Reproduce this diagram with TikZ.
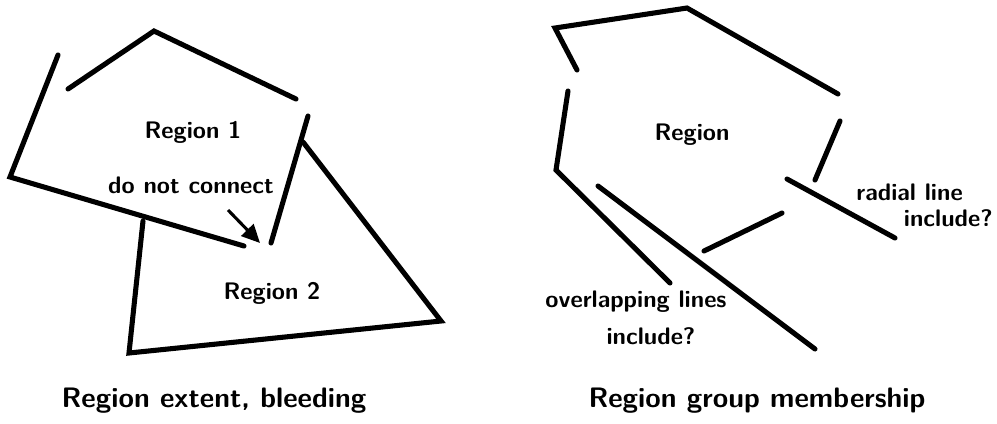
\documentclass[tikz,border=0pt]{standalone}
\usetikzlibrary{arrows.meta, positioning}

\begin{document}
\begin{tikzpicture}[x=0.025cm, y=-0.025cm,
          edge/.style={line width=3.6pt, line cap=round, line join=miter},
          lbl/.style={font=\sffamily\bfseries\fontsize{17}{19}\selectfont, inner sep=0pt},
          captxt/.style={font=\sffamily\bfseries\fontsize{20}{22}\selectfont, inner sep=0pt},
          arr/.style={-{Triangle[length=13pt, width=12pt]}, line width=2.2pt},
        ]
          \useasboundingbox (0,0) rectangle (997,423);

          % left panel: two regions
          \coordinate (a1) at (58,55);   \coordinate (a2) at (10,177);  \coordinate (a3) at (244,246);
          \coordinate (b1) at (68,89);   \coordinate (b2) at (154,31);  \coordinate (b3) at (296,99);
          \coordinate (c1) at (308,116); \coordinate (c2) at (271,243);
          \coordinate (t1) at (143,221); \coordinate (t2) at (129,353);
          \coordinate (t3) at (441,321); \coordinate (t4) at (303,142);

          \draw[edge] (a1) -- (a2) -- (a3);
          \draw[edge] (b1) -- (b2) -- (b3);
          \draw[edge] (c1) -- (c2);
          \draw[edge] (t1) -- (t2) -- (t3) -- (t4);

          \node[lbl] (r1)  at (193,132) {Region 1};
          \node[lbl] (dnc) at (191,185) {do not connect};
          \node[lbl] (r2)  at (272,293) {Region 2};
          \coordinate (p1) at (228,210); \coordinate (p2) at (260,243);
          \draw[arr] (p1) -- (p2);

          \node[captxt] (capL) at (214,401) {Region extent, bleeding};

          % right panel: group membership
          \coordinate (m1) at (577,70);  \coordinate (m2) at (555,28);
          \coordinate (m3) at (687,8);   \coordinate (m4) at (838,94);
          \coordinate (n1) at (840,121); \coordinate (n2) at (815,180);
          \coordinate (o1) at (568,91);  \coordinate (o2) at (556,170);  \coordinate (o3) at (670,283);
          \coordinate (q1) at (598,186); \coordinate (q2) at (815,349);
          \coordinate (s1) at (782,213); \coordinate (s2) at (704,251);
          \coordinate (u1) at (787,179); \coordinate (u2) at (895,238);

          \draw[edge] (m1) -- (m2) -- (m3) -- (m4);
          \draw[edge] (n1) -- (n2);
          \draw[edge] (o1) -- (o2) -- (o3);
          \draw[edge] (q1) -- (q2);
          \draw[edge] (s1) -- (s2);
          \draw[edge] (u1) -- (u2);

          \node[lbl] (reg) at (692,135) {Region};
          \node[lbl, anchor=east] (rad) at (963,192) {radial line};
          \node[lbl, anchor=east] (rinc) at (993,218) {include?};
          \node[lbl] (ovl) at (636,302) {overlapping lines};
          \node[lbl] (oinc) at (651,336) {include?};

          \node[captxt] (capR) at (757,401) {Region group membership};
        \end{tikzpicture}
\end{document}
